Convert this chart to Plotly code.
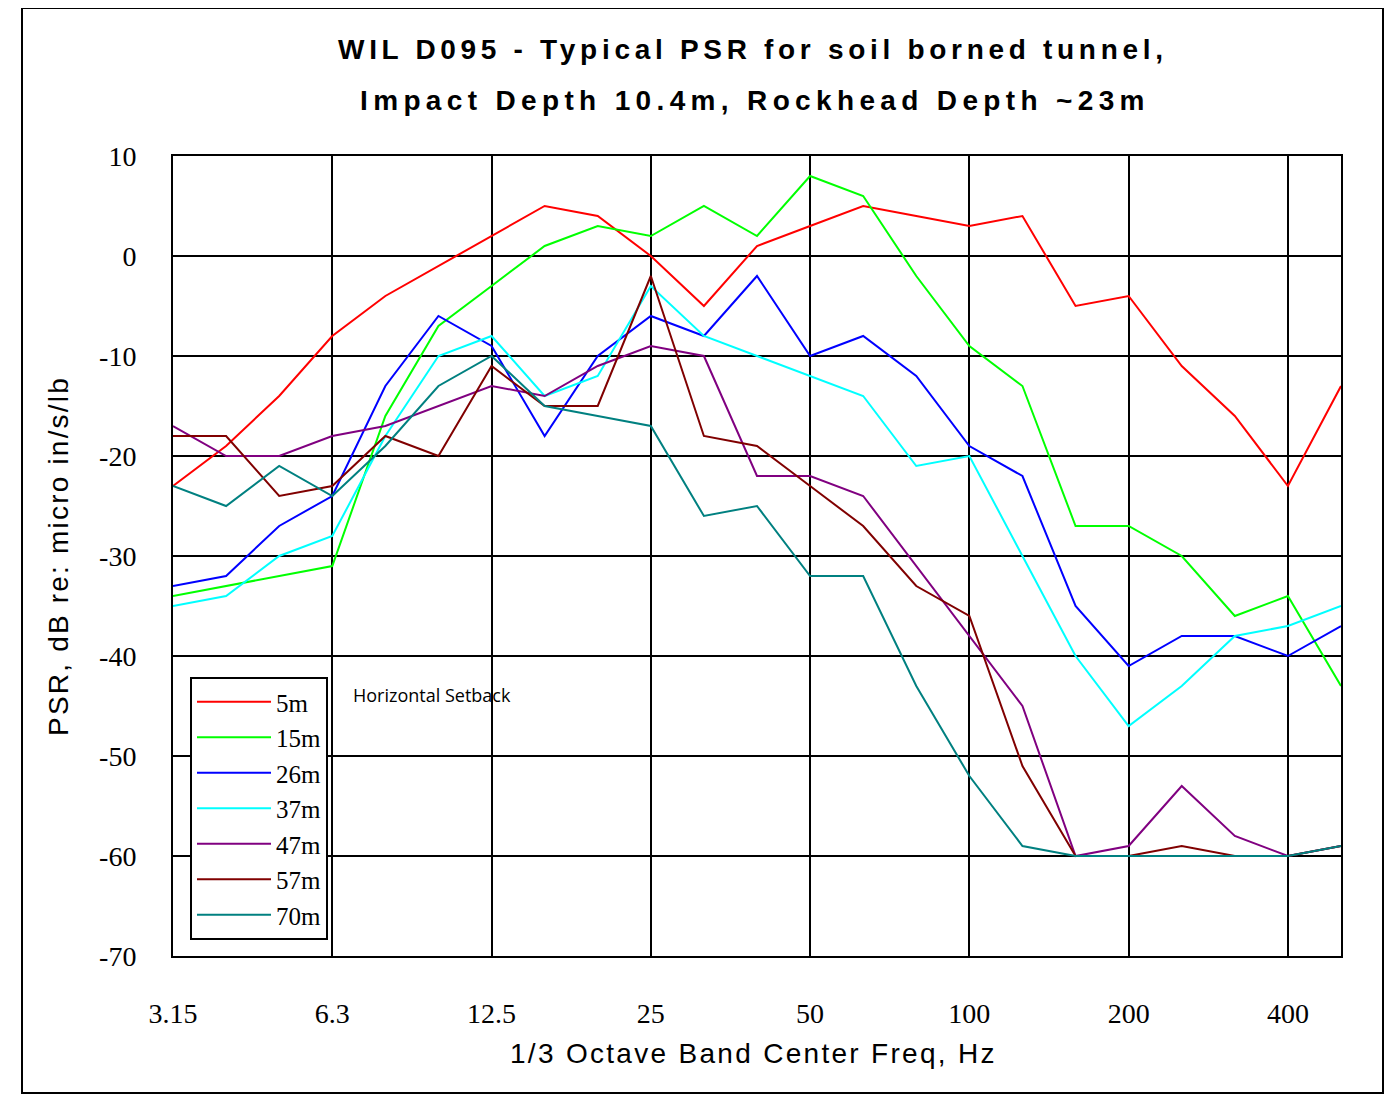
import plotly.graph_objects as go

freqs = ["3.15", "4", "5", "6.3", "8", "10", "12.5", "16", "20", "25", "31.5", "40",
         "50", "63", "80", "100", "125", "160", "200", "250", "315", "400", "500"]
tick_labels = ["3.15", "6.3", "12.5", "25", "50", "100", "200", "400"]
y_ticks = [10, 0, -10, -20, -30, -40, -50, -60, -70]
y_tick_text = ["10", "0", "-10", "-20", "-30", "-40", "-50", "-60", "-70"]

psr_5m  = [-23, -19, -14, -8, -4, -1, 2, 5, 4, 0, -5, 1, 3, 5, 4, 3, 4, -5, -4, -11, -16, -23, -13]
psr_15m = [-34, -33, -32, -31, -16, -7, -3, 1, 3, 2, 5, 2, 8, 6, -2, -9, -13, -27, -27, -30, -36, -34, -43]
psr_26m = [-33, -32, -27, -24, -13, -6, -9, -18, -10, -6, -8, -2, -10, -8, -12, -19, -22, -35, -41, -38, -38, -40, -37]
psr_37m = [-35, -34, -30, -28, -18, -10, -8, -14, -12, -3, -8, -10, -12, -14, -21, -20, -30, -40, -47, -43, -38, -37, -35]
psr_47m = [-17, -20, -20, -18, -17, -15, -13, -14, -11, -9, -10, -22, -22, -24, -31, -38, -45, -60, -59, -53, -58, -60, -59]
psr_57m = [-18, -18, -24, -23, -18, -20, -11, -15, -15, -2, -18, -19, -23, -27, -33, -36, -51, -60, -60, -59, -60, -60, -59]
psr_70m = [-23, -25, -21, -24, -19, -13, -10, -15, -16, -17, -26, -25, -32, -32, -43, -52, -59, -60, -60, -60, -60, -60, -59]

series = [
    ("5m", psr_5m, "#FF0000"),
    ("15m", psr_15m, "#00FF00"),
    ("26m", psr_26m, "#0000FF"),
    ("37m", psr_37m, "#00FFFF"),
    ("47m", psr_47m, "#800080"),
    ("57m", psr_57m, "#800000"),
    ("70m", psr_70m, "#008080"),
]

fig = go.Figure()
for name, vals, color in series:
    fig.add_trace(go.Scatter(x=freqs, y=vals, name=name, mode="lines",
                             line=dict(color=color, width=2)))

OFF = 8  # page offset of the figure div
W, H = 1392 - OFF, 1095 - OFF
L, T = 173 - OFF, 156 - OFF
R = W - (1341 - OFF)
B = H - (956 - OFF)
pw, ph = W - L - R, H - T - B

def px(x):
    return (x - OFF - L) / pw

def py(y):
    return (H - B - (y - OFF)) / ph

serif = "Liberation Serif"
sans = "Liberation Sans"

def spaced(txt, sp):
    return '<span style="letter-spacing:%spx">%s</span>' % (sp, txt)

fig.update_layout(
    width=W, height=H,
    margin=dict(l=L, r=R, t=T, b=B),
    paper_bgcolor="white", plot_bgcolor="white",
    showlegend=True,
    legend=dict(x=px(190), y=py(677), xanchor="left", yanchor="top",
                bgcolor="white", bordercolor="black", borderwidth=2,
                font=dict(family=serif, size=25, color="black"),
                tracegroupgap=0, itemwidth=74),
    xaxis=dict(type="category", categoryorder="array", categoryarray=freqs,
               range=[0, len(freqs) - 1],
               tickmode="array", tickvals=tick_labels, ticktext=tick_labels,
               showgrid=True, gridcolor="black", gridwidth=2,
               showline=True, linecolor="black", linewidth=2, mirror=True,
               ticks="", ticklabelstandoff=31,
               tickfont=dict(family=serif, size=28, color="black"),
               zeroline=False),
    yaxis=dict(range=[-70, 10], tickmode="array", tickvals=y_ticks, ticktext=y_tick_text,
               showgrid=True, gridcolor="black", gridwidth=2,
               showline=True, linecolor="black", linewidth=2, mirror=True,
               ticks="", ticklabelstandoff=29,
               tickfont=dict(family=serif, size=28, color="black"),
               zeroline=False),
    annotations=[
        dict(text="<b>" + spaced("WIL D095 - Typical PSR for soil borned tunnel,", 4.7) + "</b>",
             xref="paper", yref="paper",
             x=px(753), y=py(50), xanchor="center", yanchor="middle", showarrow=False,
             font=dict(family=sans, size=28, color="black")),
        dict(text="<b>" + spaced("Impact Depth 10.4m, Rockhead Depth ~23m", 5.35) + "</b>",
             xref="paper", yref="paper",
             x=px(755), y=py(101), xanchor="center", yanchor="middle", showarrow=False,
             font=dict(family=sans, size=28, color="black")),
        dict(text=spaced("1/3 Octave Band Center Freq, Hz", 2.3),
             xref="paper", yref="paper",
             x=px(753), y=py(1053), xanchor="center", yanchor="middle", showarrow=False,
             font=dict(family=sans, size=28, color="black")),
        dict(text=spaced("PSR, dB re: micro in/s/lb", 2.2),
             xref="paper", yref="paper",
             x=px(58), y=py(556), xanchor="center", yanchor="middle", showarrow=False,
             textangle=-90, font=dict(family=sans, size=28, color="black")),
        dict(text="Horizontal Setback", xref="paper", yref="paper",
             x=px(351), y=py(695), xanchor="left", yanchor="middle", showarrow=False,
             font=dict(family="Open Sans", size=18, color="black")),
    ],
    shapes=[
        dict(type="rect", xref="paper", yref="paper",
             x0=px(22), x1=px(1383), y0=py(1093), y1=py(8),
             line=dict(color="black", width=2), fillcolor="rgba(0,0,0,0)", layer="below"),
    ],
)

fig.write_html("out.html")
